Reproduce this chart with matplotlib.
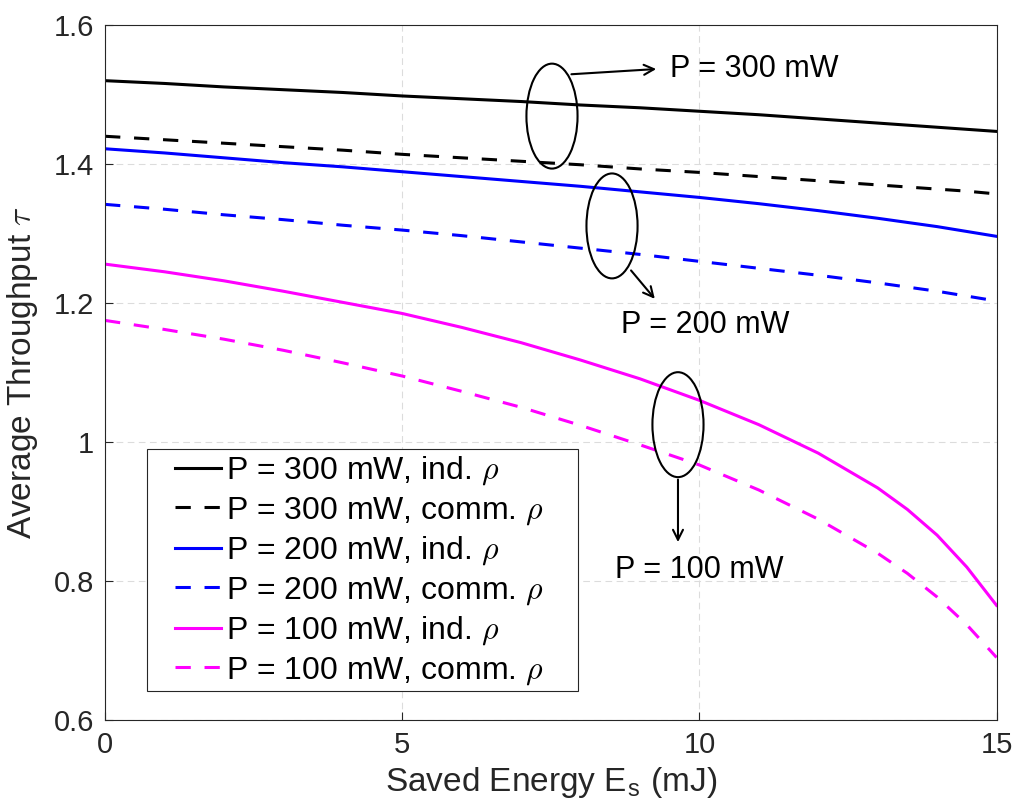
import numpy as np
import matplotlib
matplotlib.use("Agg")
import matplotlib.pyplot as plt
from matplotlib.patches import Ellipse, Rectangle
from matplotlib.ticker import FuncFormatter

plt.rcParams['font.family'] = ['Liberation Sans', 'DejaVu Sans']
plt.rcParams['mathtext.fontset'] = 'cm'

# saved energy (mJ)
es = [0, 1, 2, 3, 4, 5, 6, 7, 8, 9, 10, 11, 12, 13, 13.5, 14, 14.5, 15]

# average throughput
p300_ind = [1.520, 1.516, 1.511, 1.507, 1.503, 1.498, 1.494, 1.490, 1.485,
            1.481, 1.476, 1.471, 1.465, 1.459, 1.456, 1.453, 1.450, 1.447]
p300_comm = [1.440, 1.435, 1.430, 1.425, 1.420, 1.414, 1.409, 1.404, 1.399,
             1.393, 1.388, 1.382, 1.376, 1.370, 1.367, 1.364, 1.361, 1.357]
p200_ind = [1.422, 1.416, 1.409, 1.402, 1.396, 1.389, 1.382, 1.375, 1.368,
            1.360, 1.352, 1.343, 1.333, 1.322, 1.316, 1.310, 1.303, 1.296]
p200_comm = [1.342, 1.335, 1.327, 1.320, 1.312, 1.305, 1.297, 1.288, 1.279,
             1.270, 1.260, 1.250, 1.240, 1.229, 1.223, 1.217, 1.210, 1.203]
p100_ind = [1.256, 1.245, 1.232, 1.217, 1.201, 1.185, 1.165, 1.143, 1.118,
            1.091, 1.060, 1.025, 0.984, 0.934, 0.903, 0.866, 0.820, 0.765]
p100_comm = [1.175, 1.162, 1.148, 1.132, 1.114, 1.095, 1.073, 1.050, 1.024,
             0.996, 0.967, 0.931, 0.889, 0.840, 0.811, 0.777, 0.737, 0.690]

series = [
    (p300_ind, 'k', '-', 'P = 300 mW, ind. $\\rho$'),
    (p300_comm, 'k', '--', 'P = 300 mW, comm. $\\rho$'),
    (p200_ind, '#0000ff', '-', 'P = 200 mW, ind. $\\rho$'),
    (p200_comm, '#0000ff', '--', 'P = 200 mW, comm. $\\rho$'),
    (p100_ind, '#ff00ff', '-', 'P = 100 mW, ind. $\\rho$'),
    (p100_comm, '#ff00ff', '--', 'P = 100 mW, comm. $\\rho$'),
]

fig = plt.figure(figsize=(10.2, 8.09), dpi=100)
ax = fig.add_axes([0.103, 0.110, 0.874, 0.859])

for vals, c, ls, lab in series:
    style = '-' if ls == '-' else (0, (5, 4.5))
    ax.plot(es, vals, color=c, linestyle=style, linewidth=2.2, label=lab)

ax.set_xlim(0, 15)
ax.set_ylim(0.6, 1.6)
ax.set_xticks([0, 5, 10, 15])
ax.set_yticks([0.6, 0.8, 1.0, 1.2, 1.4, 1.6])
ax.yaxis.set_major_formatter(FuncFormatter(lambda v, p: '%g' % v))
ax.tick_params(direction='in', labelsize=21, length=6, width=0.8, colors='#262626', pad=8)
ax.grid(True, linestyle=(0, (6, 4)), color='#dcdcdc', linewidth=0.8)
for s in ax.spines.values():
    s.set_color('#262626')
    s.set_linewidth(0.8)

ax.set_xlabel('Saved Energy E$_\\mathregular{s}$ (mJ)', fontsize=24, color='#262626', labelpad=4)
ax.set_ylabel('Average Throughput $\\tau$', fontsize=24, color='#262626', labelpad=10)

# ellipses and arrows marking the groups
ell_x = [7.52, 8.53, 9.64]
ell_y = [1.469, 1.311, 1.025]
for ex, ey in zip(ell_x, ell_y):
    ax.add_patch(Ellipse((ex, ey), 0.86, 0.151, fill=False, edgecolor='k', linewidth=1.5, zorder=5))

arr = dict(arrowstyle='->', color='k', lw=1.5, mutation_scale=18)
ax.annotate('', xy=(9.32, 1.537), xytext=(7.8, 1.529), arrowprops=arr)
ax.text(9.5, 1.537, 'P = 300 mW', fontsize=22, va='center', ha='left')
ax.annotate('', xy=(9.28, 1.203), xytext=(8.82, 1.250), arrowprops=arr)
ax.text(10.1, 1.168, 'P = 200 mW', fontsize=22, va='center', ha='center')
ax.annotate('', xy=(9.64, 0.852), xytext=(9.64, 0.950), arrowprops=arr)
ax.text(10.0, 0.816, 'P = 100 mW', fontsize=22, va='center', ha='center')

# legend box drawn separately so the padding matches
ax.add_patch(Rectangle((0.047, 0.0417), 0.484, 0.348, transform=ax.transAxes,
                       facecolor='white', edgecolor='#262626', linewidth=0.8, zorder=4.9))
leg = ax.legend(loc='upper left', bbox_to_anchor=(0.0785, 0.382), fontsize=23,
                handlelength=1.45, handletextpad=0.15, labelspacing=0.24,
                borderpad=0, borderaxespad=0, frameon=False)

fig.savefig('out.png', dpi=100)
